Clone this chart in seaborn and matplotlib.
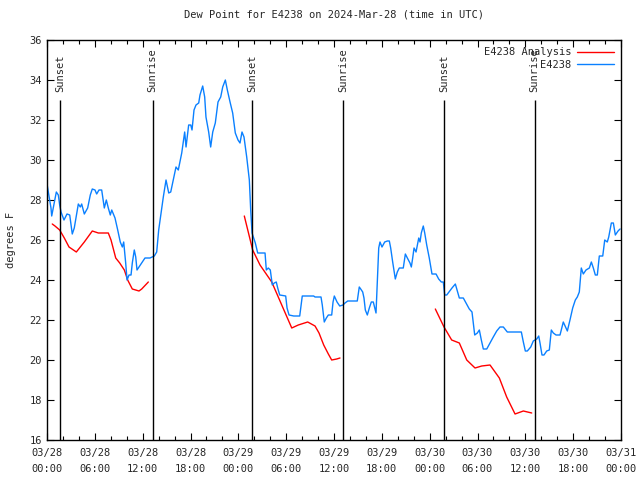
import numpy as np
import pandas as pd
import matplotlib
matplotlib.use("Agg")
import matplotlib.pyplot as plt
import matplotlib.dates as mdates
import seaborn as sns

# hours after 2024-03-28 00:00 UTC, dew point in degrees F
obs_hours = [0.0, 0.5, 0.59, 1.17, 1.42, 1.59, 1.76, 2.13, 2.51, 2.85, 3.17, 3.42, 3.93, 4.18,
             4.35, 4.68, 5.1, 5.43, 5.68, 6.02, 6.23, 6.52, 6.86, 7.19, 7.44, 7.69, 7.94, 8.12,
             8.53, 8.87, 9.19, 9.45, 9.62, 9.87, 10.04, 10.29, 10.54, 10.7, 10.95, 11.13, 11.29,
             11.54, 11.88, 12.29, 12.92, 13.46, 13.76, 14.01, 14.26, 14.59, 14.93, 15.27, 15.52,
             15.84, 16.18, 16.47, 16.9, 17.27, 17.44, 17.77, 18.03, 18.19, 18.44, 18.69, 19.03,
             19.19, 19.53, 19.78, 19.94, 20.28, 20.53, 20.79, 21.11, 21.45, 21.79, 22.04, 22.37,
             22.62, 22.96, 23.29, 23.62, 23.96, 24.21, 24.46, 24.71, 25.05, 25.38, 25.55, 25.72,
             26.13, 26.43, 27.35, 27.51, 27.76, 28.01, 28.26, 28.51, 28.76, 28.94, 29.19, 29.94,
             30.11, 30.36, 30.95, 31.7, 32.02, 32.78, 33.45, 33.62, 34.37, 34.53, 34.78, 35.04,
             35.29, 35.71, 35.88, 36.04, 36.38, 36.72, 37.13, 37.38, 37.72, 38.92, 39.17, 39.35,
             39.6, 39.76, 39.93, 40.18, 40.43, 40.68, 40.93, 41.11, 41.27, 41.43, 41.61, 41.77,
             42.02, 42.36, 42.69, 42.94, 43.11, 43.36, 43.69, 43.94, 44.19, 44.69, 44.95, 45.2,
             45.53, 45.7, 45.87, 46.04, 46.29, 46.63, 46.79, 46.95, 47.2, 47.38, 47.63, 47.95,
             48.29, 48.8, 49.13, 49.46, 49.71, 49.89, 50.14, 50.8, 51.22, 51.72, 52.22, 52.56,
             52.97, 53.31, 53.65, 53.98, 54.23, 54.48, 54.73, 55.16, 55.57, 55.98, 56.41, 56.82,
             57.24, 57.74, 58.29, 58.92, 59.5, 59.75, 60.0, 60.25, 60.68, 61.0, 61.43, 61.68,
             61.84, 62.09, 62.34, 62.68, 63.01, 63.26, 63.51, 63.85, 64.35, 64.76, 65.27, 65.6,
             65.94, 66.27, 66.52, 66.77, 67.02, 67.27, 67.61, 68.03, 68.28, 68.53, 68.78, 69.03,
             69.28, 69.71, 69.96, 70.28, 70.46, 70.79, 71.04, 71.29, 71.63, 71.88]
obs_dewpt = [28.8, 27.6, 27.2, 28.4, 28.25, 27.75, 27.4, 27.0, 27.3, 27.25, 26.3, 26.6, 27.8, 27.65,
             27.8, 27.3, 27.6, 28.25, 28.55, 28.5, 28.3, 28.5, 28.5, 27.6, 28.0, 27.6, 27.25, 27.5,
             27.1, 26.5, 25.9, 25.65, 25.9, 24.85, 24.0, 24.25, 24.25, 24.85, 25.5, 25.15, 24.5,
             24.65, 24.85, 25.1, 25.1, 25.2, 25.4, 26.5, 27.2, 28.15, 29.0, 28.35, 28.4,
             29.0, 29.65, 29.5, 30.35, 31.4, 30.65, 31.75, 31.75, 31.5, 32.5, 32.75, 32.85,
             33.25, 33.7, 33.15, 32.15, 31.4, 30.65, 31.4, 31.85, 32.9, 33.15, 33.65, 34.0,
             33.5, 32.9, 32.35, 31.35, 31.0, 30.85, 31.4, 31.15, 30.15, 29.0, 27.5, 26.35,
             25.85, 25.35, 25.35, 24.5, 24.6, 24.5, 23.75, 23.85, 23.9, 23.6, 23.25, 23.2,
             22.6, 22.25, 22.2, 22.2, 23.2, 23.2, 23.2, 23.15, 23.15, 22.75, 21.9, 22.1,
             22.25, 22.25, 22.9, 23.2, 22.9, 22.7, 22.75, 22.85, 22.95, 22.95, 23.65, 23.55,
             23.4, 23.1, 22.5, 22.25, 22.6, 22.9, 22.9, 22.6, 22.35, 23.9, 25.6, 25.9,
             25.65, 25.9, 25.95, 25.95, 25.6, 24.9, 24.05, 24.4, 24.6, 24.6, 25.3, 25.1,
             24.85, 24.65, 25.1, 25.6, 25.4, 26.1, 25.9, 26.35, 26.7, 26.35, 25.75, 25.1,
             24.3, 24.3, 24.05, 23.9, 23.9, 23.25, 23.25, 23.6, 23.8, 23.1, 23.1, 22.85,
             22.55, 22.4, 21.25, 21.35, 21.5, 21.0, 20.55, 20.55, 20.85, 21.15, 21.45, 21.65,
             21.65, 21.4, 21.4, 21.4, 21.4, 20.9, 20.45, 20.45, 20.65, 20.95, 21.05, 21.2,
             20.85, 20.25, 20.25, 20.45, 20.5, 21.5, 21.35, 21.25, 21.25, 21.9, 21.45, 22.0,
             22.6, 23.0, 23.15, 23.4, 24.6, 24.3, 24.5, 24.6, 24.9, 24.6, 24.25, 24.25,
             25.2, 25.2, 26.0, 25.9, 26.15, 26.85, 26.85, 26.25, 26.45, 26.55]

# analysis runs (three separate segments)
ana_hours = [0.66, 1.0, 1.59, 2.17, 2.76, 3.68, 4.68, 5.68, 6.44, 7.19, 7.69, 8.03, 8.62, 9.12,
             9.7, 10.12, 10.7, 11.54, 11.88, 12.71,
             24.75, 25.8, 26.72, 28.19, 30.7, 31.52, 32.7, 33.62, 34.12, 34.71, 35.29, 35.71,
             36.34, 36.75,
             48.71, 49.8, 50.76, 51.72, 52.65, 53.69, 54.53, 55.57, 56.74, 57.66, 58.71, 59.75,
             60.8]
ana_dewpt = [26.8, 26.7, 26.5, 26.1, 25.65, 25.4, 25.9, 26.45, 26.35, 26.35, 26.35, 26.0, 25.1, 24.85,
             24.5, 24.0, 23.55, 23.45, 23.55, 23.9,
             27.2, 25.5, 24.75, 23.9, 21.6, 21.75, 21.9, 21.7, 21.35, 20.75, 20.3, 20.0,
             20.05, 20.1,
             22.55, 21.65, 21.0, 20.85, 20.0, 19.6, 19.7, 19.75, 19.1, 18.15, 17.3, 17.45,
             17.35]
ana_run = [1] * 20 + [2] * 14 + [3] * 13

sun_hours = [1.67, 13.24, 25.72, 37.18, 49.84, 61.15]
sun_labels = ["Sunset", "Sunrise", "Sunset", "Sunrise", "Sunset", "Sunrise"]

start = pd.Timestamp("2024-03-28 00:00")
obs = pd.DataFrame({"time": start + pd.to_timedelta(obs_hours, unit="h"), "dewpt": obs_dewpt})
ana = pd.DataFrame({"time": start + pd.to_timedelta(ana_hours, unit="h"), "dewpt": ana_dewpt,
                    "run": ana_run})
sun_times = start + pd.to_timedelta(sun_hours, unit="h")

sns.set_style("ticks")
plt.rcParams["font.family"] = ["DejaVu Sans Mono"]
plt.rcParams["font.size"] = 7.5

fig = plt.figure(figsize=(6.4, 4.8), dpi=100)
ax = fig.add_axes([47 / 640, 1 - 440 / 480, 574 / 640, 400 / 480])

sns.lineplot(data=ana, x="time", y="dewpt", units="run", estimator=None, color="#ff0000",
             linewidth=1.0, ax=ax, legend=False)
sns.lineplot(data=obs, x="time", y="dewpt", color="#0a80ff", linewidth=1.0, ax=ax, legend=False)
red_line = ax.lines[0]
blue_line = ax.lines[-1]

ax.vlines(sun_times, 16, 33, color="black", linewidth=1.0)
for t, lab in zip(sun_times, sun_labels):
    ax.text(t, 33.4, lab, rotation=90, ha="center", va="bottom", fontsize=7.5)

ax.set_xlim(start, start + pd.Timedelta(hours=72))
ax.set_ylim(16, 36)
ax.set_yticks(np.arange(16, 37, 2))
ax.xaxis.set_major_locator(mdates.HourLocator(byhour=[0, 6, 12, 18]))
ax.xaxis.set_minor_locator(mdates.HourLocator(byhour=range(0, 24, 2)))
ax.xaxis.set_major_formatter(mdates.DateFormatter("%m/%d\n%H:%M"))
ax.tick_params(which="both", direction="in", top=True, right=True, labelsize=7.5, color="black")
ax.tick_params(which="major", length=5, width=0.8)
ax.tick_params(axis="x", which="major", pad=6)
ax.tick_params(which="minor", length=3, width=0.8)
for lbl in ax.get_xticklabels():
    lbl.set_linespacing(1.7)
for s in ax.spines.values():
    s.set_linewidth(1.0)
    s.set_color("black")

ax.set_xlabel("")
ax.set_ylabel("degrees F", fontsize=7.5, labelpad=10)
ax.set_title("Dew Point for E4238 on 2024-Mar-28 (time in UTC)", fontsize=7.5, pad=16)

ax.legend([red_line, blue_line], ["E4238 Analysis", "E4238"], loc="upper right",
          frameon=False, markerfirst=False, fontsize=7.5, handlelength=3.5,
          labelspacing=0.25, borderaxespad=0.3, handletextpad=0.6)

fig.savefig("out.png", dpi=100)
